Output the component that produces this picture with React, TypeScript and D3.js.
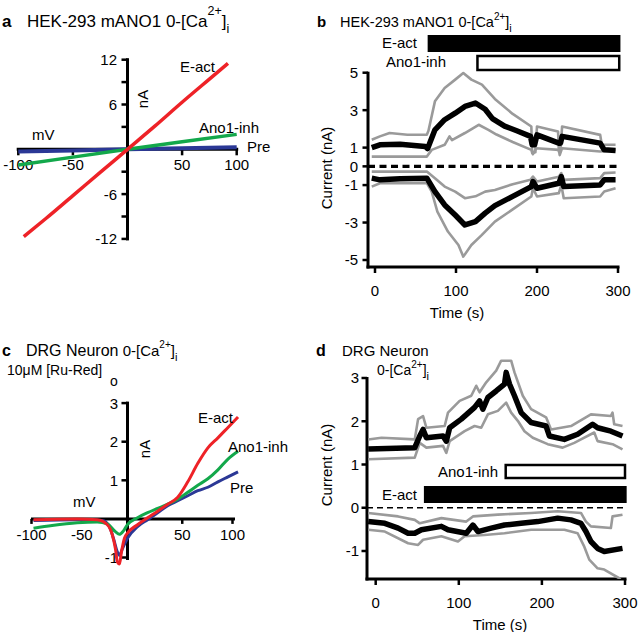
import React from 'react';
import * as d3 from 'd3';

type Pt = [number, number];

// ---- panel a : HEK-293 I-V curves (mV, nA)
const aEact: Pt[] = [[-95, -11.7], [-75, -9.3], [-50, -6.2], [-25, -3.1], [0, 0], [25, 3.1], [50, 6.3], [75, 9.4], [92, 11.5]];
const aInh: Pt[] = [[-100, -2.1], [-50, -1.05], [0, 0], [50, 1.0], [100, 2.0]];
const aPre: Pt[] = [[-100, -0.3], [-50, -0.15], [0, 0], [50, 0.13], [100, 0.27]];
const aXTicks = [-100, -50, 50, 100];
const aYTicks = [-12, -9, -6, -3, 3, 6, 9, 12];
const aYLabels = [-12, -6, 6, 12];

// ---- panel b : HEK-293 time course (s, nA)
const bUpperMean: Pt[] = [[-4, 1.0], [6, 1.15], [31, 1.18], [62, 1.06], [65, 0.95], [74, 1.95], [86, 2.49], [99, 2.84], [111, 3.2], [124, 3.38], [136, 3.05], [145, 2.55], [160, 2.15], [175, 1.9], [192, 1.6], [194, 1.15], [197, 1.15], [200, 1.68], [227, 1.24], [229, 1.24], [231, 1.6], [278, 1.24], [283, 0.88], [297, 0.85]];
const bUpperHigh: Pt[] = [[-4, 1.42], [6, 1.6], [18, 1.78], [40, 1.69], [64, 1.69], [66, 1.9], [74, 3.47], [86, 4.18], [99, 4.63], [109, 4.98], [119, 4.63], [132, 4.36], [148, 3.6], [170, 2.8], [193, 2.13], [194, 0.72], [198, 0.75], [200, 2.13], [226, 1.86], [227, 0.79], [229, 0.85], [231, 2.13], [278, 1.68], [280, 1.15], [297, 1.15]];
const bUpperLow: Pt[] = [[-4, 0.52], [64, 0.52], [70, 0.88], [86, 1.15], [92, 1.6], [95, 1.4], [111, 1.78], [128, 2.22], [140, 1.95], [150, 1.7], [170, 1.3], [193, 0.88], [195, 0.65], [199, 0.97], [227, 0.88], [228, 0.6], [231, 0.97], [278, 0.79], [297, 0.88]];
const bLowerMean: Pt[] = [[-4, -0.63], [6, -0.72], [31, -0.66], [64, -0.63], [74, -1.35], [86, -2.06], [99, -2.6], [111, -3.13], [124, -2.95], [136, -2.5], [148, -2.1], [170, -1.6], [193, -1.08], [195, -0.81], [200, -1.17], [227, -0.9], [230, -0.55], [233, -1.08], [278, -0.99], [283, -0.72], [297, -0.72]];
const bLowerHigh: Pt[] = [[-4, -0.28], [64, -0.28], [74, -0.63], [86, -1.08], [99, -1.35], [111, -1.7], [124, -1.6], [136, -1.35], [148, -1.26], [170, -0.95], [192, -0.72], [195, -0.55], [200, -0.81], [227, -0.55], [230, -0.36], [233, -0.72], [278, -0.63], [283, -0.36], [297, -0.33]];
const bLowerLow: Pt[] = [[-4, -1.08], [6, -0.9], [64, -0.9], [70, -1.35], [77, -2.42], [90, -3.48], [103, -4.2], [109, -4.82], [119, -4.2], [132, -3.66], [148, -2.95], [170, -2.3], [193, -1.61], [195, -1.17], [200, -1.61], [227, -1.43], [230, -0.99], [233, -1.7], [278, -1.61], [283, -1.34], [297, -1.17]];
const bXTicks = [0, 100, 200, 300];
const bYTicks = [-5, -3, -1, 0, 1, 3, 5];
const bEact = [65, 303];
const bInh = [125, 303];

// ---- panel c : DRG I-V curves (mV, nA)
const cEact: Pt[] = [[-98, -0.02], [-54.5, 0], [-34.5, -0.02], [-24.5, -0.15], [-19.5, -0.42], [-16.5, -0.77], [-14.5, -1.12], [-12.5, -1.17], [-10.5, -0.86], [-7.5, -0.5], [-4.5, -0.37], [5.5, -0.15], [15.5, 0.03], [25.5, 0.2], [35.5, 0.38], [45.5, 0.56], [55.5, 0.96], [65.5, 1.44], [75.5, 1.84], [85.5, 2.1], [95.5, 2.37], [105.5, 2.64]];
const cPre: Pt[] = [[-98, -0.04], [-54.5, -0.02], [-29.5, -0.04], [-22.5, -0.2], [-18.5, -0.5], [-14.5, -0.86], [-12.5, -0.95], [-9.5, -0.77], [-4.5, -0.5], [5.5, -0.2], [15.5, -0.02], [25.5, 0.16], [35.5, 0.34], [45.5, 0.47], [55.5, 0.6], [65.5, 0.73], [75.5, 0.82], [85.5, 0.96], [95.5, 1.09], [105.5, 1.22]];
const cInh: Pt[] = [[-98, -0.24], [-79.5, -0.17], [-54.5, -0.1], [-34.5, -0.08], [-24.5, -0.13], [-16.5, -0.33], [-12.5, -0.4], [-8.5, -0.31], [-4.5, -0.15], [5.5, 0.03], [15.5, 0.16], [25.5, 0.27], [35.5, 0.38], [45.5, 0.51], [55.5, 0.69], [65.5, 0.87], [75.5, 1.04], [85.5, 1.27], [95.5, 1.55], [105.5, 1.75]];
const cXTicks = [-100, -50, 50, 100];
const cYTicks = [-1, 1, 2, 3];
const cAxisMv = -4.5;

// ---- panel d : DRG time course (s, nA)
const dUpperMean: Pt[] = [[-9, 1.36], [47, 1.39], [53, 1.66], [57, 1.81], [61, 1.62], [81, 1.66], [85, 1.54], [89, 1.85], [103, 2.05], [119, 2.32], [125, 2.47], [129, 2.28], [135, 2.55], [145, 2.7], [155, 2.86], [157, 3.13], [161, 2.86], [167, 2.59], [175, 2.2], [187, 1.97], [205, 1.89], [209, 1.66], [227, 1.58], [243, 1.7], [261, 1.93], [267, 1.85], [283, 1.77], [297, 1.66]];
const dUpperHigh: Pt[] = [[-9, 1.58], [7, 1.62], [47, 1.58], [51, 2.05], [57, 2.12], [61, 1.85], [83, 1.89], [87, 2.2], [101, 2.47], [115, 2.59], [121, 2.82], [125, 2.67], [133, 2.9], [145, 3.17], [151, 3.4], [163, 3.4], [167, 3.13], [177, 2.59], [187, 2.28], [205, 2.09], [211, 1.81], [235, 1.89], [259, 2.16], [283, 2.12], [285, 2.2], [287, 1.93], [297, 1.89]];
const dUpperLow: Pt[] = [[-9, 1.12], [47, 1.16], [53, 1.5], [61, 1.39], [81, 1.43], [85, 1.27], [89, 1.54], [107, 1.77], [119, 1.89], [127, 1.85], [135, 2.16], [147, 2.24], [157, 2.43], [163, 2.2], [171, 2.01], [179, 1.77], [189, 1.62], [207, 1.47], [225, 1.39], [239, 1.5], [247, 1.58], [263, 1.74], [267, 1.54], [285, 1.47], [297, 1.35]];
const dLowerMean: Pt[] = [[-9, -0.32], [11, -0.36], [27, -0.47], [39, -0.59], [47, -0.59], [55, -0.51], [79, -0.43], [87, -0.51], [109, -0.59], [117, -0.4], [123, -0.55], [139, -0.47], [155, -0.4], [175, -0.36], [195, -0.32], [219, -0.24], [235, -0.28], [247, -0.36], [253, -0.55], [259, -0.78], [267, -0.94], [275, -1.01], [297, -0.94]];
const dLowerHigh: Pt[] = [[-9, -0.12], [27, -0.2], [47, -0.28], [53, -0.36], [79, -0.24], [109, -0.32], [117, -0.2], [147, -0.16], [187, -0.12], [219, -0.08], [247, -0.12], [253, -0.32], [259, -0.43], [283, -0.47], [285, -0.2], [297, -0.16]];
const dLowerLow: Pt[] = [[-9, -0.51], [11, -0.55], [39, -0.82], [51, -0.86], [57, -0.74], [79, -0.66], [99, -0.78], [107, -0.66], [131, -0.63], [155, -0.59], [187, -0.51], [227, -0.51], [243, -0.59], [251, -0.9], [257, -1.2], [267, -1.4], [275, -1.43], [293, -1.63], [296, -1.7]];
const dXTicks = [0, 100, 200, 300];
const dYTicks = [-1, 0, 1, 2, 3];
const dEact = [58, 302];
const dInh = [155, 300];

const FONT = "'Liberation Sans', Arial, Helvetica, sans-serif";
const RED = '#ee2227';
const GREEN = '#13a84b';
const BLUE = '#2b3896';
const GRAY = '#9a9a9a';

type Scale = d3.ScaleLinear<number, number>;

const Trace = ({ data, x, y, color, width, smooth }: { data: Pt[]; x: Scale; y: Scale; color: string; width: number; smooth?: boolean }) => {
  const line = d3.line<Pt>().x(p => x(p[0])).y(p => y(p[1]));
  if (smooth) line.curve(d3.curveMonotoneX);
  return <path d={line(data) || ''} fill="none" stroke={color} strokeWidth={width} strokeLinejoin="round" strokeLinecap="butt" />;
};

const App: React.FC = () => {
  // scales
  const xa = d3.scaleLinear().domain([-100, 100]).range([18.3, 236.7]);
  const ya = d3.scaleLinear().domain([-12, 12]).range([238.9, 59.7]);
  const xb = d3.scaleLinear().domain([0, 300]).range([375, 618]);
  const yb = d3.scaleLinear().domain([-5, 5]).range([260, 72.7]);
  const xc = d3.scaleLinear().domain([-100, 100]).range([31.5, 232.5]);
  const yc = d3.scaleLinear().domain([-1, 3]).range([557.5, 403.1]);
  const xd = d3.scaleLinear().domain([0, 300]).range([375.7, 625]);
  const yd = d3.scaleLinear().domain([-1, 3]).range([551, 378]);

  const fs = 15;
  const bAxisX = 368, bAxisY = 267;
  const dAxisX = 367, dAxisY = 579;
  const cAxisX = xc(cAxisMv);

  return (
    <div style={{ position: 'absolute', left: 0, top: 0 }}>
      <svg width={638} height={632} viewBox="0 0 638 632" style={{ display: 'block', background: '#fff' }} fontFamily={FONT}>
        <defs>
          <clipPath id="clipB"><rect x={bAxisX} y={60} width={260} height={bAxisY - 60} /></clipPath>
          <clipPath id="clipD"><rect x={dAxisX} y={340} width={265} height={dAxisY - 340} /></clipPath>
        </defs>

        {/* ================= panel a ================= */}
        <g>
          <text x={2} y={27} fontSize={17} fontWeight="bold">a</text>
          <text x={27} y={27} fontSize={17}>
            HEK-293 mANO1 0-[Ca<tspan y={15} fontSize={12.5}>2+</tspan><tspan y={27}>]</tspan><tspan y={33} fontSize={12.5}>i</tspan>
          </text>
          <line x1={16.7} x2={238.2} y1={ya(0)} y2={ya(0)} stroke="#000" strokeWidth={3} />
          <line x1={xa(0)} x2={xa(0)} y1={ya(12) - 1.5} y2={ya(-12) + 1.5} stroke="#000" strokeWidth={3} />
          {aYTicks.map(t => (
            <line key={t} x1={xa(0) - 6} x2={xa(0)} y1={ya(t)} y2={ya(t)} stroke="#000" strokeWidth={2.5} />
          ))}
          {aXTicks.map(t => (
            <line key={t} x1={xa(t)} x2={xa(t)} y1={ya(0)} y2={ya(0) + 6} stroke="#000" strokeWidth={2.5} />
          ))}
          {aYLabels.map(t => (
            <text key={t} x={117} y={ya(t)} dy="0.36em" fontSize={fs} textAnchor="end">{t}</text>
          ))}
          {aXTicks.map(t => (
            <text key={t} x={xa(t)} y={170} fontSize={fs} textAnchor="middle">{t}</text>
          ))}
          <Trace data={aPre} x={xa} y={ya} color={BLUE} width={4} />
          <Trace data={aInh} x={xa} y={ya} color={GREEN} width={3.5} />
          <Trace data={aEact} x={xa} y={ya} color={RED} width={3.5} smooth />
          <text x={180} y={72} fontSize={fs}>E-act</text>
          <text x={199} y={133} fontSize={fs}>Ano1-inh</text>
          <text x={247} y={152} fontSize={fs}>Pre</text>
          <text x={32} y={140} fontSize={fs}>mV</text>
          <text transform={`translate(148,${99}) rotate(-90)`} fontSize={fs} textAnchor="middle">nA</text>
        </g>

        {/* ================= panel b ================= */}
        <g>
          <text x={317} y={27} fontSize={15} fontWeight="bold">b</text>
          <text x={340} y={27} fontSize={14.5}>
            HEK-293 mANO1 0-[Ca<tspan y={20} fontSize={10}>2+</tspan><tspan y={27}>]</tspan><tspan y={32} fontSize={11}>i</tspan>
          </text>
          <rect x={xb(bEact[0])} y={35} width={xb(bEact[1]) - xb(bEact[0])} height={17} fill="#000" />
          <rect x={xb(bInh[0]) + 1.2} y={56} width={xb(bInh[1]) - xb(bInh[0]) - 2.4} height={14} fill="#fff" stroke="#000" strokeWidth={2.5} />
          <text x={417} y={48} fontSize={fs} textAnchor="end">E-act</text>
          <text x={446} y={67} fontSize={fs} textAnchor="end">Ano1-inh</text>

          <line x1={bAxisX} x2={bAxisX} y1={yb(5) - 1} y2={bAxisY + 1.5} stroke="#000" strokeWidth={3} />
          <line x1={bAxisX - 1.5} x2={xb(300) + 1.5} y1={bAxisY} y2={bAxisY} stroke="#000" strokeWidth={3} />
          {bYTicks.map(t => (
            <g key={t}>
              <line x1={bAxisX - 5.5} x2={bAxisX} y1={yb(t)} y2={yb(t)} stroke="#000" strokeWidth={2.5} />
              <text x={358} y={yb(t)} dy="0.36em" fontSize={fs} textAnchor="end">{t}</text>
            </g>
          ))}
          {bXTicks.map(t => (
            <g key={t}>
              <line x1={xb(t)} x2={xb(t)} y1={bAxisY} y2={bAxisY + 6} stroke="#000" strokeWidth={2.5} />
              <text x={xb(t)} y={296} fontSize={fs} textAnchor="middle">{t}</text>
            </g>
          ))}
          <text x={457} y={318} fontSize={fs} textAnchor="middle">Time (s)</text>
          <text transform={`translate(332,${168}) rotate(-90)`} fontSize={fs} textAnchor="middle">Current (nA)</text>
          <line x1={bAxisX} x2={621} y1={yb(0)} y2={yb(0)} stroke="#000" strokeWidth={3.2} strokeDasharray="7,4.5" />
          <g clipPath="url(#clipB)">
            <Trace data={bUpperHigh} x={xb} y={yb} color={GRAY} width={2.6} />
            <Trace data={bUpperLow} x={xb} y={yb} color={GRAY} width={2.6} />
            <Trace data={bLowerHigh} x={xb} y={yb} color={GRAY} width={2.6} />
            <Trace data={bLowerLow} x={xb} y={yb} color={GRAY} width={2.6} />
            <Trace data={bUpperMean} x={xb} y={yb} color="#000" width={5.5} />
            <Trace data={bLowerMean} x={xb} y={yb} color="#000" width={5.5} />
          </g>
        </g>

        {/* ================= panel c ================= */}
        <g>
          <text x={2} y={356} fontSize={16} fontWeight="bold">c</text>
          <text x={26} y={356} fontSize={16}>
            DRG Neuron<tspan fontSize={15}> 0-[Ca</tspan><tspan y={348} fontSize={10}>2+</tspan><tspan y={356} fontSize={15}>]</tspan><tspan y={361} fontSize={11}>i</tspan>
          </text>
          <text x={7} y={375} fontSize={14}>
            10μM [Ru-Red]<tspan x={110} y={386} fontSize={14}>o</tspan>
          </text>
          <line x1={31} x2={235} y1={yc(0)} y2={yc(0)} stroke="#000" strokeWidth={3} />
          <line x1={cAxisX} x2={cAxisX} y1={yc(3) - 1.5} y2={560} stroke="#000" strokeWidth={3} />
          {cYTicks.map(t => (
            <g key={t}>
              <line x1={cAxisX - 6} x2={cAxisX} y1={yc(t)} y2={yc(t)} stroke="#000" strokeWidth={2.5} />
              <text x={118} y={yc(t)} dy="0.36em" fontSize={fs} textAnchor="end">{t}</text>
            </g>
          ))}
          {cXTicks.map(t => (
            <g key={t}>
              <line x1={xc(t)} x2={xc(t)} y1={yc(0)} y2={yc(0) + 5} stroke="#000" strokeWidth={2.5} />
              <text x={xc(t)} y={540} fontSize={fs} textAnchor="middle">{t}</text>
            </g>
          ))}
          <Trace data={cPre} x={xc} y={yc} color={BLUE} width={3} smooth />
          <Trace data={cInh} x={xc} y={yc} color={GREEN} width={3} smooth />
          <Trace data={cEact} x={xc} y={yc} color={RED} width={3} smooth />
          <text x={198} y={423} fontSize={fs}>E-act</text>
          <text x={228} y={452} fontSize={fs}>Ano1-inh</text>
          <text x={230} y={493} fontSize={fs}>Pre</text>
          <text x={73} y={507} fontSize={fs}>mV</text>
          <text transform={`translate(150,${449}) rotate(-90)`} fontSize={fs} textAnchor="middle">nA</text>
        </g>

        {/* ================= panel d ================= */}
        <g>
          <text x={316} y={356} fontSize={16} fontWeight="bold">d</text>
          <text x={342} y={356} fontSize={15}>DRG Neuron</text>
          <text x={377} y={375} fontSize={14}>
            0-[Ca<tspan y={368} fontSize={10}>2+</tspan><tspan y={375}>]</tspan><tspan y={380} fontSize={11}>i</tspan>
          </text>
          <rect x={xd(dInh[0]) + 1.2} y={465} width={xd(dInh[1]) - xd(dInh[0]) - 1.2} height={13} fill="#fff" stroke="#000" strokeWidth={2.5} />
          <rect x={xd(dEact[0])} y={486} width={xd(dEact[1]) - xd(dEact[0])} height={17} fill="#000" />
          <text x={498} y={477} fontSize={fs} textAnchor="end">Ano1-inh</text>
          <text x={417} y={500} fontSize={fs} textAnchor="end">E-act</text>

          <line x1={dAxisX} x2={dAxisX} y1={yd(3) - 1} y2={dAxisY + 1.5} stroke="#000" strokeWidth={3} />
          <line x1={dAxisX - 1.5} x2={xd(300) + 1.5} y1={dAxisY} y2={dAxisY} stroke="#000" strokeWidth={3} />
          {dYTicks.map(t => (
            <g key={t}>
              <line x1={dAxisX - 5.5} x2={dAxisX} y1={yd(t)} y2={yd(t)} stroke="#000" strokeWidth={2.5} />
              <text x={359} y={yd(t)} dy="0.36em" fontSize={fs} textAnchor="end">{t}</text>
            </g>
          ))}
          {dXTicks.map(t => (
            <g key={t}>
              <line x1={xd(t)} x2={xd(t)} y1={dAxisY} y2={dAxisY + 6} stroke="#000" strokeWidth={2.5} />
              <text x={xd(t)} y={608} fontSize={fs} textAnchor="middle">{t}</text>
            </g>
          ))}
          <text x={500} y={630} fontSize={fs} textAnchor="middle">Time (s)</text>
          <text transform={`translate(332,${465}) rotate(-90)`} fontSize={fs} textAnchor="middle">Current (nA)</text>
          <line x1={dAxisX} x2={626} y1={yd(0)} y2={yd(0)} stroke="#000" strokeWidth={1.6} strokeDasharray="6,4" />
          <g clipPath="url(#clipD)">
            <Trace data={dUpperHigh} x={xd} y={yd} color={GRAY} width={2.6} />
            <Trace data={dUpperLow} x={xd} y={yd} color={GRAY} width={2.6} />
            <Trace data={dLowerHigh} x={xd} y={yd} color={GRAY} width={2.6} />
            <Trace data={dLowerLow} x={xd} y={yd} color={GRAY} width={2.6} />
            <Trace data={dUpperMean} x={xd} y={yd} color="#000" width={5.5} />
            <Trace data={dLowerMean} x={xd} y={yd} color="#000" width={5.5} />
          </g>
        </g>
      </svg>
    </div>
  );
};

export default App;
